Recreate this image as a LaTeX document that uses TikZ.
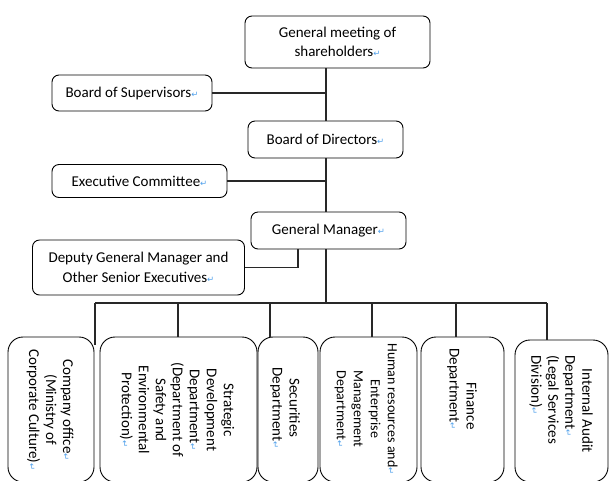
\documentclass[tikz,border=0pt]{standalone}
\usepackage{fontspec}
\setmainfont{Carlito}
\newfontfamily\dejavu{DejaVu Sans}
\definecolor{retblue}{RGB}{80,160,235}
\definecolor{linecol}{RGB}{40,40,40}
\newcommand\retmark{{\dejavu\color{retblue}\fontsize{8.5}{8.5}\selectfont ↵}}
\begin{document}
\begin{tikzpicture}[x=1pt,y=-1pt,
  topbox/.style={draw=black,line width=0.9pt,rounded corners=7pt,inner sep=0pt,align=center,font=\fontsize{15}{19.5}\selectfont},
  botbox/.style={draw=black,line width=0.9pt,rounded corners=15pt,inner sep=0pt,minimum height=145pt},
  vtext/.style={rotate=-90,inner sep=0pt,align=center,font=\fontsize{15}{17}\selectfont},
  conn/.style={draw=linecol,line width=1.3pt}]
\useasboundingbox (0,0) rectangle (612,480);
% top boxes
\node[topbox,minimum width=185pt,minimum height=52pt] (gms) at (337.5,42) {General meeting of\\ shareholders\retmark};
\node[topbox,minimum width=160pt,minimum height=36pt] (bos) at (132,93) {Board of Supervisors\retmark};
\node[topbox,minimum width=155pt,minimum height=37pt] (bod) at (325.5,139.5) {Board of Directors\retmark};
\node[topbox,minimum width=175pt,minimum height=33pt] (exc) at (139.5,181) {Executive Committee\retmark};
\node[topbox,minimum width=155pt,minimum height=37pt] (gm) at (328.5,230.5) {General Manager\retmark};
\node[topbox,minimum width=212pt,minimum height=55pt] (dep) at (138.5,267.5) {Deputy General Manager and\\ Other Senior Executives\retmark};
% bottom boxes
\node[botbox,minimum width=86pt] (co) at (51,409.5) {};
\node[botbox,minimum width=157pt] (sd) at (178.5,409.5) {};
\node[botbox,minimum width=60pt] (sec) at (288,409.5) {};
\node[botbox,minimum width=97pt] (hr) at (368.5,409.5) {};
\node[botbox,minimum width=83pt] (fin) at (462.5,409.5) {};
\node[botbox,minimum width=93pt,minimum height=142pt] (ia) at (561.5,411) {};
% rotated texts
\node[vtext] (cot) at (50,410) {Company office\retmark\\ (Ministry of\\ Corporate Culture)\retmark};
\node[vtext] (sdt) at (177,410) {Strategic\\ Development\\ Department\retmark\\ (Department of\\ Safety and\\ Environmental\\ Protection)\retmark};
\node[vtext] (sect) at (285,408) {Securities\\ Department\retmark};
\node[vtext,font=\fontsize{14}{17}\selectfont] (hrt) at (366,409) {Human resources and\retmark\\ Enterprise\\ Management\\ Department\retmark};
\node[vtext,align=right] (fint) at (462,389) {Finance\\ Department\retmark};
\node[vtext,align=left] (iat) at (561,404) {\hspace*{0.9em}Internal Audit\\ Department\retmark\\ (Legal Services\\ Division)\retmark};
% connector coordinates
\coordinate (trunk) at (326,0);
\coordinate (dj) at (298,0);
\coordinate (busL) at (95,303);
\coordinate (busR) at (547,303);
\coordinate (coend) at (95,345);
\coordinate (sdx) at (178,0);
\coordinate (secx) at (270,0);
\coordinate (hrx) at (372,0);
\coordinate (finx) at (456,0);
% connectors
\draw[conn] (gms.south -| trunk) -- (bod.north -| trunk);
\draw[conn] (bos.east) -- (bos.east -| trunk);
\draw[conn] (bod.south -| trunk) -- (gm.north -| trunk);
\draw[conn] (exc.east) -- (exc.east -| trunk);
\draw[conn] (gm.south -| trunk) -- (busL -| trunk);
\draw[conn] (dep.east) -| (gm.south -| dj);
\draw[conn] (busL) -- (busR);
\draw[conn] (busL) -- (coend);
\draw[conn] (busL -| sdx) -- (sd.north -| sdx);
\draw[conn] (busL -| secx) -- (sec.north -| secx);
\draw[conn] (busL -| hrx) -- (hr.north -| hrx);
\draw[conn] (busL -| finx) -- (fin.north -| finx);
\draw[conn] (busR) -- (ia.north -| busR);
\end{tikzpicture}
\end{document}
